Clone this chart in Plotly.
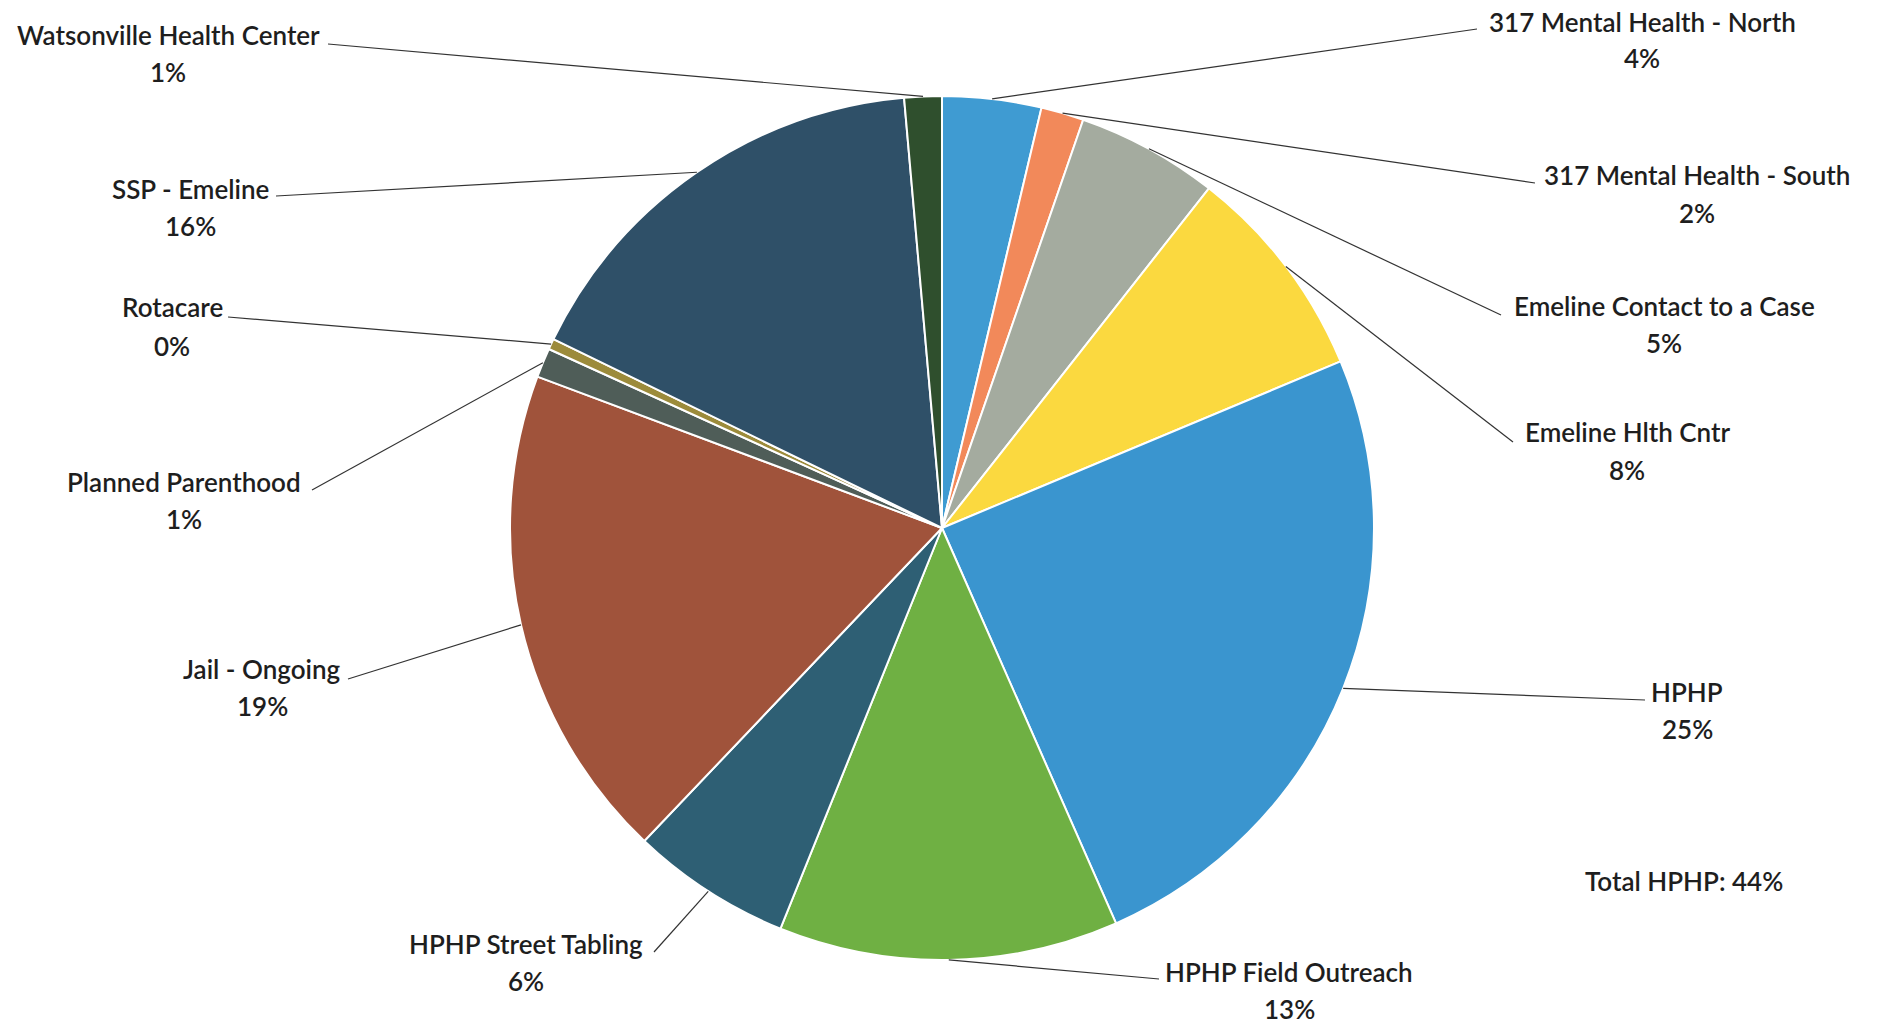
import math
import plotly.graph_objects as go

# ---------------- data ----------------
categories = [
    "317 Mental Health - North",
    "317 Mental Health - South",
    "Emeline Contact to a Case",
    "Emeline Hlth Cntr",
    "HPHP",
    "HPHP Field Outreach",
    "HPHP Street Tabling",
    "Jail - Ongoing",
    "Planned Parenthood",
    "Rotacare",
    "SSP - Emeline",
    "Watsonville Health Center",
]
shares = [3.7, 1.6, 5.3, 8.1, 24.7, 12.7, 6.0, 18.6, 1.1, 0.4, 16.4, 1.4]
total_note = "Total HPHP: 44%"

# ---------------- styles / layout ----------------
W, H = 1883, 1024
CX, CY, R = 942, 528, 432  # pie centre and radius in px

slice_colors = [
    "#3f9bd2", "#f2895a", "#a4ab9f", "#fbd93f", "#3a95cf", "#6fb043",
    "#2e5f74", "#a0533b", "#4f5d58", "#9c8b3b", "#2f5068", "#2f4f2d",
]

# label placement (px): name centre, percent centre, leader start
label_pos = {
    "317 Mental Health - North": ((1642, 22), (1642, 58), (1477, 29)),
    "317 Mental Health - South": ((1697, 175), (1697, 213), (1535, 183)),
    "Emeline Contact to a Case": ((1664, 306), (1664, 343), (1501, 315)),
    "Emeline Hlth Cntr": ((1627, 432), (1627, 470), (1513, 442)),
    "HPHP": ((1687, 692), (1687, 729), (1645, 700)),
    "HPHP Field Outreach": ((1289, 972), (1289, 1009), (1159, 979)),
    "HPHP Street Tabling": ((526, 944), (526, 981), (654, 952)),
    "Jail - Ongoing": ((262, 669), (262, 706), (348, 679)),
    "Planned Parenthood": ((184, 482), (184, 519), (312, 490)),
    "Rotacare": ((172, 307), (172, 346), (228, 317)),
    "SSP - Emeline": ((190, 189), (190, 226), (276, 196)),
    "Watsonville Health Center": ((168, 35), (168, 72), (328, 44)),
}
total_pos = (1684, 881)

FONT = "Lato"
FSIZE = 26
FWEIGHT = 600
TXT = "#1e1e1e"


def px(x):
    return x / W


def py(y):
    return 1 - y / H


fig = go.Figure(
    go.Pie(
        labels=categories,
        values=shares,
        sort=False,
        direction="clockwise",
        rotation=0,
        marker=dict(colors=slice_colors, line=dict(color="white", width=2)),
        textinfo="none",
        hoverinfo="label+percent",
        showlegend=False,
        domain=dict(
            x=[px(CX - R), px(CX + R)],
            y=[py(CY + R), py(CY - R)],
        ),
    )
)

font = dict(family=FONT, size=FSIZE, color=TXT, weight=FWEIGHT)
annotations = []
shapes = []
tot = sum(shares)
cum = 0.0
for name, v in zip(categories, shares):
    mid = (cum + v / 2) / tot * 2 * math.pi
    cum += v
    ex = CX + R * math.sin(mid)
    ey = CY - R * math.cos(mid)
    (nx, ny), (qx, qy), (sx, sy) = label_pos[name]
    annotations.append(dict(x=px(nx), y=py(ny), xref="paper", yref="paper",
                            text=name, showarrow=False,
                            xanchor="center", yanchor="middle", font=font))
    annotations.append(dict(x=px(qx), y=py(qy), xref="paper", yref="paper",
                            text=f"{round(v / tot * 100)}%", showarrow=False,
                            xanchor="center", yanchor="middle", font=font))
    shapes.append(dict(type="line", xref="paper", yref="paper",
                       x0=px(sx), y0=py(sy), x1=px(ex), y1=py(ey),
                       line=dict(color="#333333", width=1.2)))

annotations.append(dict(x=px(total_pos[0]), y=py(total_pos[1]),
                        xref="paper", yref="paper", text=total_note,
                        showarrow=False, xanchor="center", yanchor="middle",
                        font=font))

fig.update_layout(
    width=W, height=H,
    margin=dict(l=0, r=0, t=0, b=0),
    paper_bgcolor="white",
    plot_bgcolor="white",
    annotations=annotations,
    shapes=shapes,
)

fig.write_html(
    "out.html",
    config={"displayModeBar": False},
    post_script="document.body.style.margin='0';document.body.style.overflow='hidden';",
)
